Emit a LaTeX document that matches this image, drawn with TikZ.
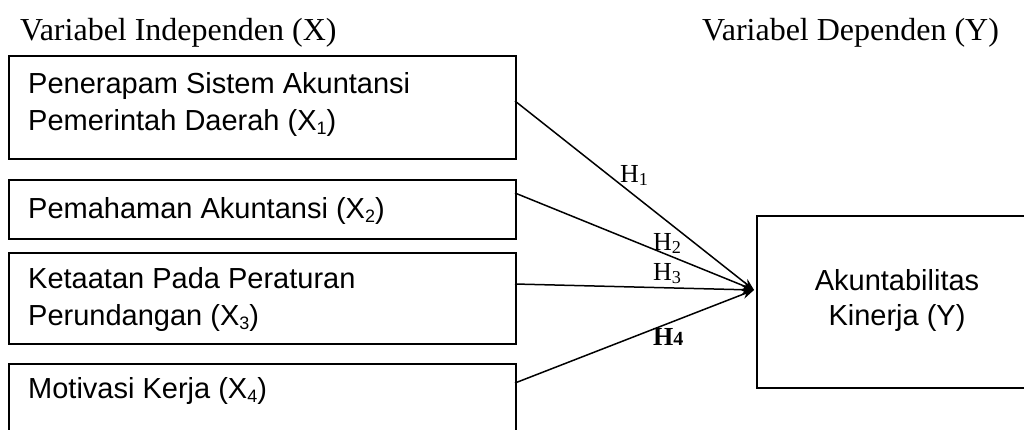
\documentclass[tikz,border=0pt]{standalone}
\usepackage{fontspec}
\setmainfont{Liberation Serif}
\newfontfamily\arialfont{Liberation Sans}
\usetikzlibrary{arrows.meta}
\newcommand{\mysub}[1]{\raisebox{-0.14em}{\fontsize{18}{18}\selectfont #1}}
\begin{document}
\begin{tikzpicture}[x=1pt,y=-1pt,
  box/.style={draw, line width=1.6pt, inner sep=0pt, anchor=north west},
  btext/.style={font=\arialfont\fontsize{29}{37}\selectfont, anchor=base west, inner sep=0pt},
  ytext/.style={font=\arialfont\fontsize{29}{37}\selectfont, anchor=base, inner sep=0pt},
  title/.style={font=\fontsize{32}{38}\selectfont, anchor=base west, inner sep=0pt},
  hlab/.style={font=\fontsize{26}{30}\selectfont, anchor=base west, inner sep=0pt},
  link/.style={line width=1.5pt, -{Stealth[length=12pt,width=9pt]}}]
\useasboundingbox (0,0) rectangle (1024,429);
\clip (0,0) rectangle (1024,429);
\fill[white] (0,0) rectangle (1024,429);
% titles
\node[title] (t1) at (20,40) {Variabel Independen (X)};
\node[title] (t2) at (702,40) {Variabel Dependen (Y)};
% boxes
\node[box, minimum width=507pt, minimum height=103pt] (b1) at (8,55) {};
\node[box, minimum width=507pt, minimum height=59pt] (b2) at (8,179) {};
\node[box, minimum width=507pt, minimum height=91pt] (b3) at (8,252) {};
\node[box, minimum width=507pt, minimum height=100pt] (b4) at (8,363) {};
\node[box, minimum width=300pt, minimum height=172pt] (y) at (756,215) {};
% box texts
\node[btext] (x1a) at (28,93) {Penerapam Sistem Akuntansi};
\node[btext] (x1b) at (28,130) {Pemerintah Daerah (X\mysub{1})};
\node[btext] (x2) at (28,218) {Pemahaman Akuntansi (X\mysub{2})};
\node[btext] (x3a) at (28,288) {Ketaatan Pada Peraturan};
\node[btext] (x3b) at (28,325) {Perundangan (X\mysub{3})};
\node[btext] (x4) at (28,398) {Motivasi Kerja (X\mysub{4})};
\node[ytext] (ya) at (897,290) {Akuntabilitas};
\node[ytext] (yb) at (897,325) {Kinerja (Y)};
% connectors
\coordinate (s1) at (515,101);
\coordinate (s2) at (515,193);
\coordinate (s3) at (515,284);
\coordinate (s4) at (515,383);
\coordinate (tip) at (754,290);
\draw[link] (s1) -- (tip);
\draw[link] (s2) -- (tip);
\draw[link] (s3) -- (tip);
\draw[link] (s4) -- (tip);
% labels
\node[hlab] (h1) at (620,182) {H\textsubscript{1}};
\node[hlab] (h2) at (653,250) {H\textsubscript{2}};
\node[hlab] (h3) at (653,280) {H\textsubscript{3}};
\node[hlab] (h4) at (653,345) {\textbf{H{\fontsize{20}{20}\selectfont 4}}};
\end{tikzpicture}
\end{document}
